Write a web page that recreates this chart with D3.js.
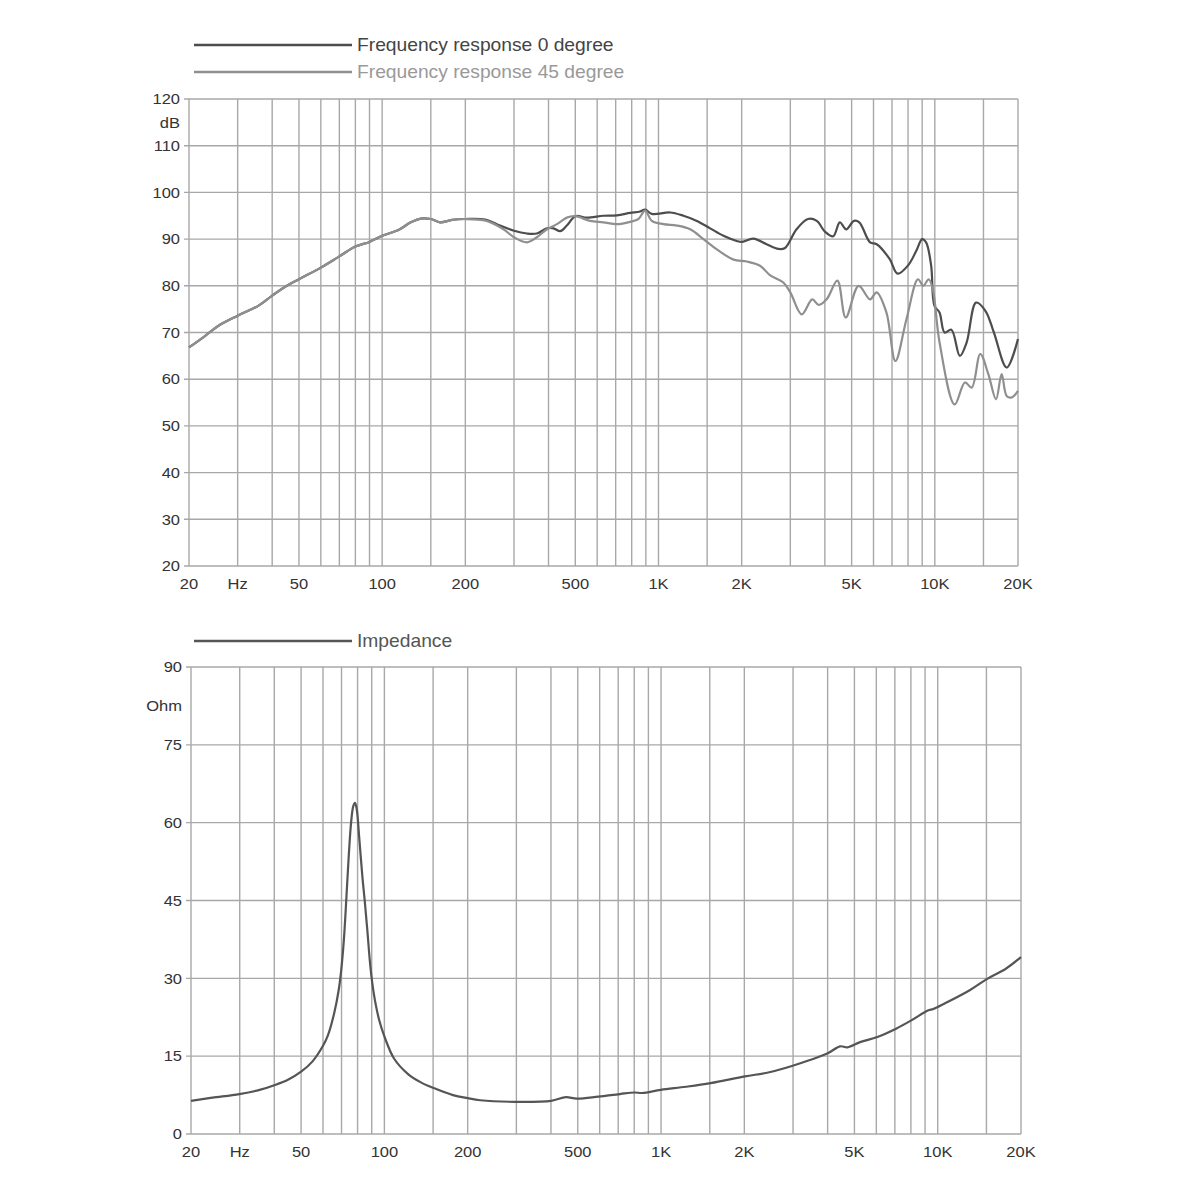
<!DOCTYPE html>
<html>
<head>
<meta charset="utf-8">
<script src="https://cdn.jsdelivr.net/npm/d3@7"></script>
<style>
  html, body { margin: 0; padding: 0; background: #fff; }
  svg { display: block; }
  text { font-family: "Liberation Sans", Arial, sans-serif; }
</style>
</head>
<body>
<svg id="chart" width="1200" height="1200"></svg>
<script>
// ---------------- DATA ----------------
const gridFreqs = [20,30,40,50,60,70,80,90,100,150,200,300,400,500,600,700,800,900,1000,1500,2000,3000,4000,5000,6000,7000,8000,9000,10000,15000,20000];
const xTickFreqs = [20,30,50,100,200,500,1000,2000,5000,10000,20000];
const xTickLabels = ["20","Hz","50","100","200","500","1K","2K","5K","10K","20K"];

const dbTicks = [20,30,40,50,60,70,80,90,100,110,120];
const ohmTicks = [0,15,30,45,60,75,90];

const fr0Freq = [20,22.9,25.5,30,35.6,40,44.9,50,60,70,80,90,100,115,127,138,150,162,179,200,236,260,300,334,363,395,417,441,466,500,551,632,707,790,858,895,946,1102,1231,1377,1538,1718,1920,2000,2205,2462,2715,2870,3160,3474,3740,4000,4290,4530,4780,5100,5330,5830,6160,6870,7330,8010,8570,9000,9300,9700,9970,10400,10850,11480,12320,13040,14100,15260,16360,18200,20000];
const fr0Db = [66.8,69.3,71.4,73.6,75.7,77.9,79.9,81.4,83.9,86.3,88.4,89.4,90.7,92,93.6,94.4,94.3,93.6,94.1,94.3,94.2,93.2,91.8,91.2,91.2,92.3,92.3,91.7,92.9,94.9,94.6,95,95.1,95.6,95.9,96.3,95.4,95.7,95,93.9,92.3,90.7,89.6,89.4,90.1,88.9,87.9,88.1,92.1,94.3,93.9,91.6,90.6,93.6,92.1,93.9,93.6,89.3,88.9,85.7,82.6,84.4,87.5,90,89.3,84.3,75.7,74.3,70,70.6,65,67.9,76.4,74.6,70,62.5,68.6];

const fr45Freq = [20,22.9,25.5,30,35.6,40,44.9,50,60,70,80,90,100,115,127,138,150,162,179,200,239,275,300,334,363,395,429,466,500,566,632,707,790,846,895,946,1042,1165,1302,1455,1626,1870,2088,2330,2530,2830,3000,3300,3600,3800,4060,4440,4760,5300,5830,6160,6680,7200,7900,8690,9090,9500,9830,10400,11800,12850,13600,14600,15620,16650,17450,18200,19000,20000];
const fr45Db = [66.8,69.3,71.4,73.6,75.7,77.9,79.9,81.4,83.9,86.3,88.4,89.4,90.7,92,93.6,94.4,94.3,93.6,94.1,94.3,93.9,92.1,90.4,89.3,90.4,92.1,93.2,94.6,94.9,93.9,93.6,93.2,93.7,94.3,96.1,93.9,93.2,92.9,92.1,90,87.8,85.6,85.2,84.3,82.3,80.7,78.6,73.9,77.1,75.9,77.1,81.1,73.2,80,77.1,78.6,74.3,63.9,72.9,81.4,80,81.4,79.3,67.9,54.6,59.3,58.2,65.4,61.1,55.7,61.1,56.4,56.1,57.5];

const impFreq = [20,23.9,29.9,35.4,40,45,50,55,60,62.5,66,68.3,69.8,71.4,72.8,74.3,75.8,77.2,78.3,79.5,81,83.3,84.9,86.7,89.1,91.6,95.7,100,108.5,121.5,135,150,177,200,222,297,401,453,496,594,710,802,855,998,1230,1510,2010,2460,3010,3430,3990,4440,4720,5240,6050,7070,8030,9210,9640,10550,13050,15100,17680,20000];
const impOhm = [6.4,7.0,7.7,8.5,9.4,10.5,12.0,14.0,17.0,19.0,23.5,27.6,31.5,37.5,45,53.4,60,63.2,63.8,62.5,57.5,49.5,45,39.5,32,27,22,18.8,14.5,11.6,10.0,8.9,7.5,6.9,6.5,6.2,6.4,7.1,6.8,7.2,7.7,8.0,7.9,8.5,9.1,9.8,11.1,11.9,13.2,14.2,15.5,16.9,16.7,17.7,18.7,20.3,21.9,23.8,24.1,25.1,27.7,29.9,31.9,34.1];

// ---------------- DRAW ----------------
const svg = d3.select("#chart");
const gridColor = "#a8a8a8";
const textColor = "#333";
const SX = 1.1; // horizontal text stretch of the original

function txt(g, x, y, s, opts) {
  return g.append("text")
    .attr("transform", `translate(${x},${y}) scale(${SX},1)`)
    .attr("text-anchor", opts.anchor || "start")
    .attr("dominant-baseline", "central")
    .attr("font-size", opts.size || 15)
    .attr("fill", opts.color || textColor)
    .text(s);
}

function panel(cfg) {
  const g = svg.append("g");
  const x = d3.scaleLog().domain([20, 20000]).range([cfg.x0, cfg.x1]);
  const y = d3.scaleLinear().domain(cfg.yDomain).range([cfg.y1, cfg.y0]);

  // vertical grid
  g.selectAll(".vg").data(gridFreqs).enter().append("line")
    .attr("x1", d => x(d)).attr("x2", d => x(d))
    .attr("y1", cfg.y0).attr("y2", cfg.y1)
    .attr("stroke", gridColor).attr("stroke-width", 1.4);
  // horizontal grid (with small tick to the left)
  g.selectAll(".hg").data(cfg.yTicks).enter().append("line")
    .attr("x1", cfg.x0 - 5).attr("x2", cfg.x1)
    .attr("y1", d => y(d)).attr("y2", d => y(d))
    .attr("stroke", gridColor).attr("stroke-width", 1.4);

  // y labels
  cfg.yTicks.forEach(v => txt(g, cfg.x0 - 9, y(v), String(v), {anchor: "end"}));
  txt(g, cfg.x0 - 9, y(cfg.unitAt), cfg.unit, {anchor: "end"});
  // x labels
  xTickFreqs.forEach((f, i) => txt(g, x(f), cfg.y1 + 18, xTickLabels[i], {anchor: "middle"}));

  // series
  cfg.series.forEach(s => {
    const pts = s.f.map((f, i) => [f, s.v[i]]);
    const line = d3.line().x(d => x(d[0])).y(d => y(d[1])).curve(d3.curveCatmullRom.alpha(0.5));
    g.append("path").datum(pts).attr("d", line)
      .attr("fill", "none").attr("stroke", s.color).attr("stroke-width", 2.2)
      .attr("stroke-linejoin", "round");
  });

  // legend
  cfg.series.forEach((s, i) => {
    const ly = cfg.legendY + i * 27;
    g.append("line").attr("x1", 194).attr("x2", 352).attr("y1", ly).attr("y2", ly)
      .attr("stroke", s.color).attr("stroke-width", 2.5);
    txt(g, 357, ly, s.name, {size: 17.5, color: s.textColor});
  });
}

panel({
  x0: 189, x1: 1018, y0: 99, y1: 566,
  yDomain: [20, 120], yTicks: dbTicks, unit: "dB", unitAt: 115,
  legendY: 45,
  series: [
    {name: "Frequency response 0 degree", f: fr0Freq, v: fr0Db, color: "#4d4d4d", textColor: "#444"},
    {name: "Frequency response 45 degree", f: fr45Freq, v: fr45Db, color: "#8f8f8f", textColor: "#999"}
  ]
});

panel({
  x0: 191, x1: 1021, y0: 667, y1: 1134,
  yDomain: [0, 90], yTicks: ohmTicks, unit: "Ohm", unitAt: 82.6,
  legendY: 641,
  series: [
    {name: "Impedance", f: impFreq, v: impOhm, color: "#555", textColor: "#555"}
  ]
});
</script>
</body>
</html>
